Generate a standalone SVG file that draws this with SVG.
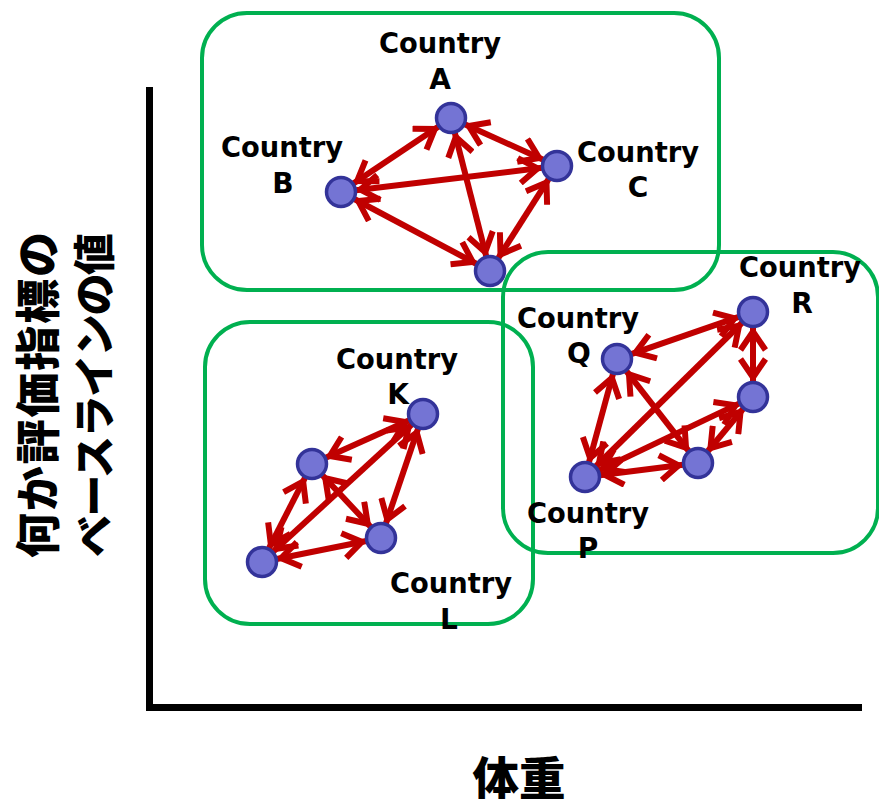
<svg xmlns="http://www.w3.org/2000/svg" width="879" height="799" viewBox="0 0 879 799">
<style>
.box{fill:none;stroke:#00B050;stroke-width:4}
.axis{stroke:#000;stroke-width:7;fill:none}
.edge{stroke:#C00000;stroke-width:6;fill:none;marker-start:url(#ah);marker-end:url(#ah)}
.node{fill:#7474D4;stroke:#333399;stroke-width:3.5}
.lbl{font-family:"DejaVu Sans","Noto Sans",sans-serif;font-weight:bold;font-size:28px;text-anchor:middle;fill:#000}
.ja{font-family:"Noto Sans CJK JP",sans-serif;font-weight:900;fill:#000}
</style>
<defs>
<marker id="ah" viewBox="-28 -15 34 30" refX="0" refY="0" markerWidth="34" markerHeight="30" markerUnits="userSpaceOnUse" orient="auto-start-reverse">
<path d="M-23 -12.5 L-4.5 0 L-23 12.5" fill="none" stroke="#C00000" stroke-width="6" stroke-linejoin="miter"/>
</marker>
</defs>
<g id="axes">
<line class="axis" x1="149.5" y1="87" x2="149.5" y2="711"/>
<line class="axis" x1="146" y1="707.5" x2="862" y2="707.5"/>
<text class="ja" font-size="46" x="519" y="795" text-anchor="middle" textLength="93" lengthAdjust="spacingAndGlyphs">体重</text>
<g transform="translate(55,395) rotate(-90)">
<text class="ja" font-size="45" x="0" y="0" text-anchor="middle" textLength="326" lengthAdjust="spacing">何か評価指標の</text>
</g>
<g transform="translate(110,395) rotate(-90)">
<text class="ja" font-size="42" x="0" y="0" text-anchor="middle" textLength="324" lengthAdjust="spacing">ベースラインの値</text>
</g>
</g>
<g id="clusters">
<rect id="cluster-ABC" class="box" x="202" y="13" width="517" height="277" rx="45"/>
<rect id="cluster-KL" class="box" x="205" y="322" width="328" height="302" rx="45"/>
<rect id="cluster-PQR" class="box" x="503" y="252" width="375" height="301" rx="45"/>
</g>
<g id="connectors">
<line class="edge" x1="438.6" y1="126.4" x2="353.4" y2="183.6"/>
<line class="edge" x1="464.7" y1="124.2" x2="543.3" y2="159.8"/>
<line class="edge" x1="355.9" y1="190.2" x2="542.1" y2="167.8"/>
<line class="edge" x1="454.7" y1="132.5" x2="486.3" y2="256.5"/>
<line class="edge" x1="354.3" y1="199" x2="476.7" y2="264"/>
<line class="edge" x1="548.9" y1="178.6" x2="498.1" y2="258.4"/>
<line class="edge" x1="409.3" y1="420.2" x2="325.7" y2="457.8"/>
<line class="edge" x1="412" y1="424.2" x2="273" y2="551.8"/>
<line class="edge" x1="418.2" y1="428.2" x2="385.8" y2="523.8"/>
<line class="edge" x1="305.2" y1="477.4" x2="268.8" y2="548.6"/>
<line class="edge" x1="322.2" y1="475" x2="370.8" y2="527"/>
<line class="edge" x1="276.7" y1="559" x2="366.3" y2="541"/>
<line class="edge" x1="738.8" y1="316.9" x2="631.2" y2="354.1"/>
<line class="edge" x1="742.3" y1="322.5" x2="595.7" y2="466.5"/>
<line class="edge" x1="753" y1="327" x2="753" y2="382"/>
<line class="edge" x1="739.5" y1="403.4" x2="598.5" y2="470.6"/>
<line class="edge" x1="743.4" y1="408.5" x2="707.6" y2="451.5"/>
<line class="edge" x1="613.1" y1="373.5" x2="588.9" y2="462.5"/>
<line class="edge" x1="626.2" y1="370.8" x2="688.8" y2="451.2"/>
<line class="edge" x1="599.9" y1="475.2" x2="683.1" y2="464.8"/>
</g>
<g id="node-A"><circle class="node" cx="451" cy="118" r="14.5"/><text class="lbl" x="440" y="53" textLength="122" lengthAdjust="spacingAndGlyphs">Country</text><text class="lbl" x="440" y="89">A</text></g>
<g id="node-B"><circle class="node" cx="341" cy="192" r="14.5"/><text class="lbl" x="282" y="157" textLength="122" lengthAdjust="spacingAndGlyphs">Country</text><text class="lbl" x="283" y="193">B</text></g>
<g id="node-C"><circle class="node" cx="557" cy="166" r="14.5"/><text class="lbl" x="638" y="162" textLength="122" lengthAdjust="spacingAndGlyphs">Country</text><text class="lbl" x="638" y="197">C</text></g>
<g id="node-D"><circle class="node" cx="490" cy="271" r="14.5"/></g>
<g id="node-K"><circle class="node" cx="423" cy="414" r="14.5"/><text class="lbl" x="397" y="369" textLength="122" lengthAdjust="spacingAndGlyphs">Country</text><text class="lbl" x="398" y="404">K</text></g>
<g id="node-K2"><circle class="node" cx="312" cy="464" r="14.5"/></g>
<g id="node-L"><circle class="node" cx="381" cy="538" r="14.5"/><text class="lbl" x="451" y="593" textLength="122" lengthAdjust="spacingAndGlyphs">Country</text><text class="lbl" x="449" y="629">L</text></g>
<g id="node-L2"><circle class="node" cx="262" cy="562" r="14.5"/></g>
<g id="node-R"><circle class="node" cx="753" cy="312" r="14.5"/><text class="lbl" x="800" y="277" textLength="122" lengthAdjust="spacingAndGlyphs">Country</text><text class="lbl" x="802" y="313">R</text></g>
<g id="node-Q"><circle class="node" cx="617" cy="359" r="14.5"/><text class="lbl" x="578" y="328" textLength="122" lengthAdjust="spacingAndGlyphs">Country</text><text class="lbl" x="579" y="363">Q</text></g>
<g id="node-R2"><circle class="node" cx="753" cy="397" r="14.5"/></g>
<g id="node-P"><circle class="node" cx="585" cy="477" r="14.5"/><text class="lbl" x="588" y="523" textLength="122" lengthAdjust="spacingAndGlyphs">Country</text><text class="lbl" x="588" y="558">P</text></g>
<g id="node-P2"><circle class="node" cx="698" cy="463" r="14.5"/></g>
</svg>
